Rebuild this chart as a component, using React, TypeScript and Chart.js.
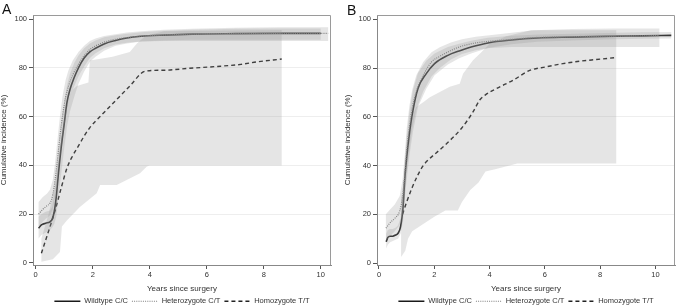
import React, { useEffect, useRef } from 'react';
import { Chart, registerables } from 'chart.js';

Chart.register(...registerables);

const FONT = "'Liberation Sans', Arial, Helvetica, sans-serif";

const seriesNames = ['Wildtype C/C', 'Heterozygote C/T', 'Homozygote T/T'];
const xTicks = [0, 2, 4, 6, 8, 10];
const yTicks = [0, 20, 40, 60, 80, 100];
const xTitle = 'Years since surgery';
const yTitle = 'Cumulative incidence (%)';

// ---------- Panel A ----------
const aWtYears = [0.1, 0.2, 0.35, 0.5, 0.58, 0.65, 0.72, 0.8, 0.9, 1.0, 1.1, 1.2, 1.35, 1.5, 1.7, 1.9, 2.1, 2.4, 2.8, 3.2, 3.7, 4.5, 5.5, 7, 8.5, 10];
const aWtInc = [14.2, 15.6, 16.3, 16.9, 18, 21, 27, 37, 48, 57, 66, 71, 76, 80, 84, 86.5, 88, 89.8, 91.2, 92.2, 92.9, 93.4, 93.8, 94, 94.1, 94.1];
const aWtLo = [10, 11.5, 12.5, 13.5, 14.5, 16, 19, 27, 37, 47, 56, 62, 68, 73.5, 78.5, 82.5, 84.5, 87, 89, 90, 90.8, 91.2, 91.5, 91.5, 91.5, 91.5];
const aWtHi = [19, 20, 21, 21.5, 23, 28, 36, 47, 58, 66, 73, 77.5, 82, 85, 88, 90, 91.2, 92.5, 93.3, 94, 94.6, 95.2, 95.6, 96, 96.1, 96.1];

const aHetYears = [0.1, 0.25, 0.4, 0.5, 0.6, 0.68, 0.75, 0.85, 0.95, 1.05, 1.15, 1.3, 1.5, 1.7, 1.9, 2.1, 2.4, 2.8, 3.2, 3.7, 4.5, 5.5, 7, 8.5, 10.26];
const aHetInc = [20, 22, 23.5, 24.5, 28, 34, 41, 52, 61, 68, 72.5, 77, 81.5, 85, 87.5, 89, 90.5, 91.7, 92.4, 93, 93.5, 93.8, 94, 94.1, 94.1];
const aHetLo = [15, 17, 18.5, 19.5, 22, 27, 33, 43, 52, 60, 66, 71, 76.5, 80.5, 84, 86, 88, 89.5, 90.3, 90.8, 91, 91, 91, 91, 91];
const aHetHi = [25, 27, 28.5, 30, 34, 41, 49, 60, 69, 75, 79, 83, 86.5, 89, 91, 92, 93, 93.8, 94.5, 95, 95.6, 96, 96.4, 96.6, 96.6];

const aHomYears = [0.2, 0.45, 0.68, 0.9, 1.1, 1.3, 1.5, 1.7, 1.9, 2.3, 2.8, 3.3, 3.84, 4.5, 5.4, 6.3, 7.2, 7.75, 8.63];
const aHomInc = [4, 13, 21.5, 31, 39, 44, 48, 52, 55.5, 60.5, 66.5, 72.5, 78.6, 79, 79.8, 80.5, 81.4, 82.4, 83.6];
const aHomHiYears = [0.2, 0.45, 0.65, 0.8, 0.95, 1.1, 1.3, 1.44, 1.85, 1.9, 2.7, 3.3, 3.55, 3.85, 4.5, 8.63];
const aHomHi = [10, 20, 30, 42, 55, 65, 71, 72.5, 74, 83, 84.5, 86.5, 90, 93, 95, 95.5];
const aHomLoYears = [0.2, 0.6, 0.85, 0.92, 1.1, 1.55, 2.14, 2.26, 2.84, 3.19, 3.66, 3.9, 4.0, 8.63];
const aHomLo = [0.5, 1.5, 4.5, 15, 17.5, 23, 28.6, 32, 32, 34, 36.8, 39.5, 40, 40];

// ---------- Panel B ----------
const bWtYears = [0.26, 0.32, 0.4, 0.5, 0.6, 0.69, 0.78, 0.87, 0.93, 1.0, 1.1, 1.23, 1.41, 1.71, 2.01, 2.49, 2.9, 3.33, 3.94, 4.8, 5.74, 7, 8.15, 9.5, 10.57];
const bWtInc = [8.7, 10.5, 11, 11, 11.5, 12.2, 14.9, 23, 34, 43, 53, 62.7, 71.6, 77.7, 81.8, 85.2, 87, 88.6, 90.3, 91.5, 92.3, 92.7, 93, 93.2, 93.4];
const bWtLo = [6, 7.5, 8.5, 9, 9.5, 10, 12, 17, 26, 34, 44, 54, 64, 71.5, 77, 81.5, 84, 86, 88.2, 89.8, 90.8, 91.3, 91.7, 92, 92.1];
const bWtHi = [12, 13.5, 14, 14, 14.5, 15.5, 18.5, 29, 42, 52, 62, 71, 78, 83, 86, 88.6, 90, 91.2, 92.4, 93.2, 93.8, 94.1, 94.4, 94.7, 94.8];

const bHetYears = [0.25, 0.4, 0.57, 0.75, 0.85, 0.93, 1.0, 1.1, 1.2, 1.35, 1.6, 1.9, 2.2, 2.6, 3.0, 3.5, 4.0, 4.8, 5.6, 7, 8.5, 10.14];
const bHetInc = [14.3, 16.5, 18.3, 21.4, 27, 36, 46, 56, 63.5, 70.5, 77, 82.5, 84.8, 87.2, 89, 90.3, 91, 91.8, 92.5, 92.9, 93.1, 93.3];
const bHetLo = [9, 11, 13, 15.5, 20, 28, 37, 47, 55, 63, 70.5, 76.5, 80, 83.5, 85.8, 87.3, 88.2, 88.6, 88.6, 88.6, 88.6, 88.6];
const bHetHi = [20, 22, 24, 27.5, 34, 44, 55, 64.5, 71, 77, 82.5, 86.5, 88.5, 90.5, 91.8, 92.8, 93.5, 94.5, 95.5, 96, 96.2, 96.2];

const bHomYears = [0.85, 1.0, 1.2, 1.4, 1.6, 1.8, 2.0, 2.4, 3.0, 3.4, 3.65, 3.85, 4.25, 4.85, 5.45, 6.05, 6.65, 7.26, 7.86, 8.58];
const bHomInc = [20, 25, 31, 36, 40, 42.5, 44.5, 48.5, 55.5, 62, 67, 69, 71.6, 75, 79, 80.5, 81.8, 82.8, 83.5, 84.3];
const bHomHiYears = [0.8, 0.9, 1.0, 1.1, 1.2, 1.35, 1.6, 1.84, 2.56, 2.92, 3.04, 3.4, 3.71, 4.0, 4.6, 5.5, 8.58];
const bHomHi = [27, 33, 42, 52, 60, 64, 66, 68, 72.3, 73.6, 77.7, 83.2, 86.6, 90, 93, 95.5, 95.5];
const bHomLoYears = [0.8, 0.95, 1.05, 1.2, 1.6, 2.0, 2.4, 2.85, 3.0, 3.3, 3.6, 3.85, 4.2, 5.0, 8.58];
const bHomLo = [2.5, 5, 10, 13, 16, 19, 21.5, 21.5, 25, 30, 33, 37.5, 38.5, 40.8, 40.8];

const BAND = 'rgba(150,150,150,0.25)';
const lineStyles = [
  { color: '#1a1a1a', width: 1.6, dash: [] as number[] },
  { color: '#7a7a7a', width: 1.2, dash: [1, 1.2] },
  { color: '#222222', width: 1.4, dash: [4, 3] },
];

function pts(xs: number[], ys: number[]) {
  return xs.map((x, i) => ({ x, y: ys[i] }));
}
function polygon(hiX: number[], hiY: number[], loX: number[], loY: number[]) {
  const up = pts(hiX, hiY);
  const lo = pts(loX, loY).reverse();
  return [...up, ...lo];
}

type Panel = {
  letter: string;
  letterX: number;
  letterY: number;
  xMin: number;
  xMax: number;
  yMin: number;
  yMax: number;
  yWidth: number;
  yTitlePad: number;
  padRight: number;
  wt: [number[], number[], number[], number[]];
  het: [number[], number[], number[], number[]];
  hom: [number[], number[], number[], number[], number[], number[]];
};

const panelA: Panel = {
  letter: 'A', letterX: 2, letterY: 14,
  xMin: -0.095, xMax: 10.36, yMin: -0.82, yMax: 101.64,
  yWidth: 33, yTitlePad: -1.5, padRight: 7,
  wt: [aWtYears, aWtInc, aWtLo, aWtHi],
  het: [aHetYears, aHetInc, aHetLo, aHetHi],
  hom: [aHomYears, aHomInc, aHomHiYears, aHomHi, aHomLoYears, aHomLo],
};
const panelB: Panel = {
  letter: 'B', letterX: 9, letterY: 14.5,
  xMin: -0.072, xMax: 10.705, yMin: -0.82, yMax: 101.76,
  yWidth: 39, yTitlePad: 4.5, padRight: 1,
  wt: [bWtYears, bWtInc, bWtLo, bWtHi],
  het: [bHetYears, bHetInc, bHetLo, bHetHi],
  hom: [bHomYears, bHomInc, bHomHiYears, bHomHi, bHomLoYears, bHomLo],
};

function buildConfig(p: Panel): any {
  const bandDs = (data: any[]) => ({
    type: 'line',
    data,
    borderColor: 'rgba(0,0,0,0)',
    borderWidth: 0,
    backgroundColor: BAND,
    fill: 'shape',
    pointRadius: 0,
    tension: 0,
  });
  const lineDs = (label: string, data: any[], s: any) => ({
    type: 'line',
    label,
    data,
    borderColor: s.color,
    borderWidth: s.width,
    borderDash: s.dash,
    fill: false,
    pointRadius: 0,
    cubicInterpolationMode: 'monotone',
  });
  const [hx, hy, hhx, hhy, hlx, hly] = p.hom;
  const datasets = [
    bandDs(polygon(hhx, hhy, hlx, hly)),
    bandDs(polygon(p.wt[0], p.wt[3], p.wt[0], p.wt[2])),
    bandDs(polygon(p.het[0], p.het[3], p.het[0], p.het[2])),
    lineDs(seriesNames[2], pts(hx, hy), lineStyles[2]),
    lineDs(seriesNames[1], pts(p.het[0], p.het[1]), lineStyles[1]),
    lineDs(seriesNames[0], pts(p.wt[0], p.wt[1]), lineStyles[0]),
  ];

  const letterPlugin = {
    id: 'panelLetter',
    afterDraw(chart: any) {
      const ctx = chart.ctx;
      ctx.save();
      ctx.font = `14px ${FONT}`;
      ctx.fillStyle = '#111';
      ctx.textBaseline = 'alphabetic';
      ctx.textAlign = 'left';
      ctx.fillText(p.letter, p.letterX, p.letterY);
      ctx.restore();
    },
  };
  const framePlugin = {
    id: 'frame',
    afterDraw(chart: any) {
      const { left, top, right, bottom } = chart.chartArea;
      const ctx = chart.ctx;
      ctx.save();
      ctx.strokeStyle = '#9a9a9a';
      ctx.lineWidth = 1;
      ctx.setLineDash([]);
      ctx.beginPath();
      ctx.moveTo(left, top + 0.5);
      ctx.lineTo(right - 0.5, top + 0.5);
      ctx.lineTo(right - 0.5, bottom);
      ctx.stroke();
      ctx.restore();
    },
  };

  return {
    type: 'line',
    data: { datasets },
    plugins: [letterPlugin, framePlugin],
    options: {
      responsive: false,
      animation: false,
      devicePixelRatio: 1,
      layout: { padding: { left: 0, right: p.padRight, top: 15, bottom: -7 } },
      plugins: {
        tooltip: { enabled: false },
        title: { display: false },
        legend: {
          display: true,
          position: 'bottom',
          fullSize: false,
          labels: {
            usePointStyle: true,
            pointStyleWidth: 26,
            padding: 4,
            color: '#333',
            font: { family: FONT, size: 7.5 },
            generateLabels: () =>
              seriesNames.map((name, i) => ({
                text: name,
                fillStyle: 'rgba(0,0,0,0)',
                strokeStyle: lineStyles[i].color,
                lineWidth: lineStyles[i].width,
                lineDash: lineStyles[i].dash,
                pointStyle: 'line',
                hidden: false,
                fontColor: '#333',
                datasetIndex: 5 - i,
              })),
          },
        },
      },
      scales: {
        x: {
          type: 'linear',
          min: p.xMin,
          max: p.xMax,
          afterBuildTicks: (s: any) => {
            s.ticks = xTicks.map((v) => ({ value: v }));
          },
          afterFit: (s: any) => {
            s.height = 28.5;
          },
          grid: { drawOnChartArea: false, drawTicks: true, tickLength: 4, tickColor: '#555', tickWidth: 1 },
          border: { display: true, color: '#888', width: 1 },
          ticks: { font: { family: FONT, size: 7.5 }, color: '#333', padding: 1, maxRotation: 0, autoSkip: false },
          title: { display: true, text: xTitle, color: '#333', font: { family: FONT, size: 8 }, padding: { top: 0, bottom: 0 } },
        },
        y: {
          type: 'linear',
          min: p.yMin,
          max: p.yMax,
          afterBuildTicks: (s: any) => {
            s.ticks = yTicks.map((v) => ({ value: v }));
          },
          afterFit: (s: any) => {
            s.width = p.yWidth;
          },
          grid: {
            drawOnChartArea: true,
            drawTicks: true,
            tickLength: 4,
            tickColor: '#555',
            color: (c: any) => (c.tick && (c.tick.value === 0 || c.tick.value === 100) ? 'rgba(0,0,0,0)' : '#eeeeee'),
          },
          border: { display: true, color: '#888', width: 1 },
          ticks: { font: { family: FONT, size: 7.5 }, color: '#333', padding: 2, autoSkip: false },
          title: { display: true, text: yTitle, color: '#333', font: { family: FONT, size: 8 }, padding: { top: p.yTitlePad, bottom: 0 } },
        },
      },
    },
  };
}

function PanelChart({ panel, left }: { panel: Panel; left: number }) {
  const ref = useRef<HTMLCanvasElement | null>(null);
  useEffect(() => {
    if (!ref.current) return;
    const chart = new Chart(ref.current, buildConfig(panel));
    return () => chart.destroy();
  }, [panel]);
  return (
    <canvas
      ref={ref}
      width={338}
      height={308}
      style={{ position: 'absolute', left, top: 0, width: 338, height: 308 }}
    />
  );
}

export default function App() {
  return (
    <div style={{ position: 'absolute', left: 0, top: 0, width: 676, height: 308, background: '#fff' }}>
      <PanelChart panel={panelA} left={0} />
      <PanelChart panel={panelB} left={338} />
    </div>
  );
}
